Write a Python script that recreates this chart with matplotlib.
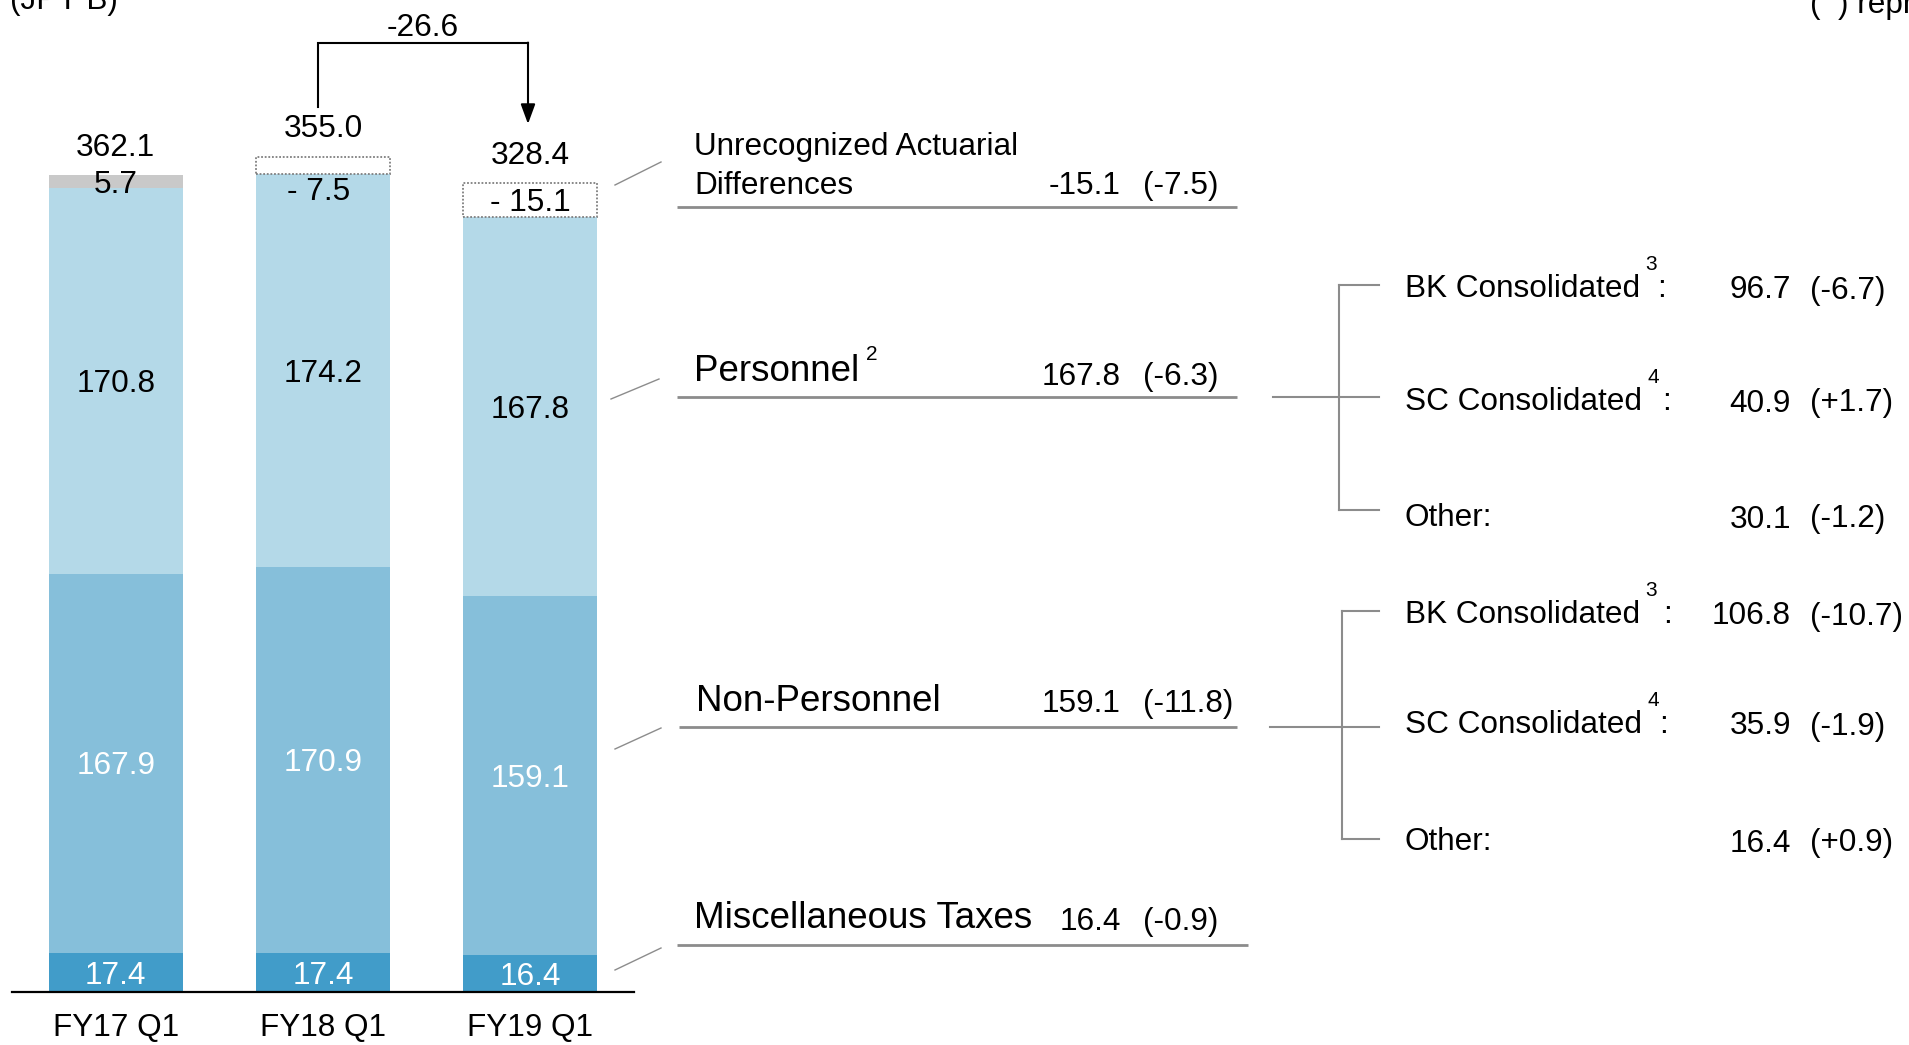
import numpy as np
import matplotlib
matplotlib.use("Agg")
import matplotlib.pyplot as plt

plt.rcParams['font.family'] = ['Liberation Sans', 'DejaVu Sans']

# ---------------- data ----------------
periods = ["FY17 Q1", "FY18 Q1", "FY19 Q1"]
misc_taxes = [17.4, 17.4, 16.4]
non_personnel = [167.9, 170.9, 159.1]
personnel = [170.8, 174.2, 167.8]
actuarial = [5.7, -7.5, -15.1]
totals = [362.1, 355.0, 328.4]
total_change = -26.6

main_labels = ["Unrecognized Actuarial\nDifferences", "Personnel", "Non-Personnel", "Miscellaneous Taxes"]
main_values = [-15.1, 167.8, 159.1, 16.4]
main_changes = [-7.5, -6.3, -11.8, -0.9]

sub_labels = ["BK Consolidated", "SC Consolidated", "Other:"]
sub_notes = ["3", "4", ""]
pers_sub_values = [96.7, 40.9, 30.1]
pers_sub_changes = [-6.7, 1.7, -1.2]
nonp_sub_values = [106.8, 35.9, 16.4]
nonp_sub_changes = [-10.7, -1.9, 0.9]

# ---------------- style ----------------
W, H = 1909, 1045
C_MISC = "#419CC9"
C_NONP = "#86BFDA"
C_PERS = "#B4D9E8"
C_GRAY = "#C9C9C9"
C_LINE = "#8C8C8C"
FS = 22.7
FS_BIG = 26.5
FS_SUP = 15
HALF_CAP = -8.1  # points: baseline offset so digits are visually centred

fig = plt.figure(figsize=(W / 100, H / 100), dpi=100)

# ---------------- bars ----------------
ax = fig.add_axes([12 / W, 53 / H, 622 / W, 948 / H])
x = np.arange(len(periods))
bw = 0.646
misc = np.array(misc_taxes)
nonp = np.array(non_personnel)
pers = np.array(personnel)
ax.bar(x, misc, bw, color=C_MISC, zorder=2)
ax.bar(x, nonp, bw, bottom=misc, color=C_NONP, zorder=2)
b2 = misc + nonp
ax.bar(x, pers, bw, bottom=b2, color=C_PERS, zorder=2)
b3 = b2 + pers


def centred(xi, yi, s, color="black", dx=0):
    ax.annotate(s, xy=(xi, yi), xytext=(dx, HALF_CAP), textcoords="offset points",
                ha="center", va="baseline", color=color, fontsize=FS, zorder=4)


for i in range(len(periods)):
    centred(x[i], misc[i] / 2, f"{misc[i]:.1f}", "white")
    centred(x[i], misc[i] + nonp[i] / 2, f"{nonp[i]:.1f}", "white")
    centred(x[i], b2[i] + pers[i] / 2, f"{pers[i]:.1f}", "black")
    a = actuarial[i]
    if a > 0:
        ax.bar(x[i], a, bw, bottom=b3[i], color=C_GRAY, zorder=2)
        centred(x[i], b3[i] + a / 2, f"{a:.1f}")
        top = b3[i] + a
    else:
        ax.bar(x[i], -a, bw, bottom=b3[i], facecolor="white", edgecolor="#7F7F7F",
               linestyle=(0, (1, 1)), linewidth=1.3, zorder=3)
        if -a < 10:
            ax.annotate(f"- {abs(a):.1f}", xy=(x[i], b3[i]), xytext=(-3, -19), textcoords="offset points",
                        ha="center", va="baseline", fontsize=FS, zorder=4)
        else:
            centred(x[i], b3[i] - a / 2, f"- {abs(a):.1f}")
        top = b3[i] - a
    ax.annotate(f"{totals[i]:.1f}", xy=(x[i], top), xytext=(0, 14), textcoords="offset points",
                ha="center", va="baseline", fontsize=FS)

ax.set_xlim(-0.5, 2.5)
ax.set_ylim(0, 420)
for s in ["top", "left", "right"]:
    ax.spines[s].set_visible(False)
ax.spines["bottom"].set_color("black")
ax.spines["bottom"].set_linewidth(1.6)
ax.set_yticks([])
ax.set_xticks(x)
ax.set_xticklabels(periods, fontsize=FS)
ax.tick_params(axis="x", length=0, pad=15)
ax.patch.set_visible(False)

# ---------------- overlay (pixel layout) ----------------
ov = fig.add_axes([0, 0, 1, 1])
ov.set_xlim(0, W)
ov.set_ylim(H, 0)
ov.axis("off")


def txt(xp, yp, s, **kw):
    kw.setdefault("fontsize", FS)
    kw.setdefault("va", "baseline")
    return ov.text(xp, yp, s, clip_on=False, **kw)


txt(10, 9, "(JPY B)")
txt(1810, 13, "(  ) represents changes from the previous year")

# bracket with arrow
ov.plot([318, 318, 528], [107, 42.6, 42.6], color="black", lw=1.5, solid_joinstyle="miter")
ov.annotate("", xy=(528, 124), xytext=(528, 42.6),
            arrowprops=dict(arrowstyle="-|>,head_length=0.6,head_width=0.22", color="black", lw=1.5,
                            mutation_scale=20, shrinkA=0, shrinkB=0))
txt(422.5, 36.5, f"{total_change:.1f}", ha="center")

# leader lines
leaders = [((615, 185), (661, 162)), ((611, 399), (659, 379)), ((615, 749), (661, 728)), ((615, 970), (661, 948))]
for (x0, y0), (x1, y1) in leaders:
    ov.plot([x0, x1], [y0, y1], color=C_LINE, lw=1.0)

# underlines
unders = [(677, 1237, 207), (677, 1237, 397), (679, 1237, 727), (677, 1248, 945)]
for x0, x1, yy in unders:
    ov.plot([x0, x1], [yy, yy], color=C_LINE, lw=2.0, solid_capstyle="butt")

# main labels
lab_base = [193.6, 381, 711, 927.7]
val_base = [193.6, 384.7, 712, 930]
lab_x = [694, 694, 696, 694]
lab_fs = [FS, FS_BIG, FS_BIG, FS_BIG]
for k in range(4):
    lines = main_labels[k].split("\n")
    if len(lines) == 2:
        txt(lab_x[k], lab_base[k] - 39, lines[0], fontsize=lab_fs[k])
        t = txt(lab_x[k], lab_base[k], lines[1], fontsize=lab_fs[k])
    else:
        t = txt(lab_x[k], lab_base[k], lines[0], fontsize=lab_fs[k])
    if main_labels[k] == "Personnel":
        ov.annotate("2", xy=(1, 360), xycoords=(t, "data"), xytext=(5, 0), textcoords="offset points",
                    fontsize=FS_SUP, va="baseline", ha="left")
    c = main_changes[k]
    txt(1121, val_base[k], f"{main_values[k]:.1f}", ha="right")
    txt(1143, val_base[k], f"(+{c:.1f})" if c > 0 else f"({c:.1f})", ha="left")


# trees
def tree(hx0, vx, branch_y, base_y, values, changes, colon_gaps):
    ov.plot([hx0, vx], [branch_y[1], branch_y[1]], color=C_LINE, lw=1.5)
    ov.plot([vx, vx], [branch_y[0], branch_y[2]], color=C_LINE, lw=1.5)
    for by in branch_y:
        ov.plot([vx, 1379], [by, by], color=C_LINE, lw=1.5)
    for j in range(3):
        t = txt(1405, base_y[j], sub_labels[j])
        if sub_notes[j]:
            s = ov.annotate(sub_notes[j], xy=(1, base_y[j] - 27), xycoords=(t, "data"), xytext=(4, 0),
                            textcoords="offset points", fontsize=FS_SUP, va="baseline", ha="left")
            ov.annotate(":", xy=(1, base_y[j]), xycoords=(s, "data"), xytext=(colon_gaps[j], 0),
                        textcoords="offset points", fontsize=FS, va="baseline", ha="left")
        txt(1791, base_y[j] + 1.5, f"{values[j]:.1f}", ha="right")
        c = changes[j]
        txt(1810, base_y[j] + 1.5, f"(+{c:.1f})" if c > 0 else f"({c:.1f})", ha="left")


tree(1273, 1339, [285, 397, 510], [297, 410, 526], pers_sub_values, pers_sub_changes, [0, 2])
tree(1270, 1342, [611, 727, 839], [623, 733, 850], nonp_sub_values, nonp_sub_changes, [4, 0])

fig.savefig("out.png", dpi=100)
